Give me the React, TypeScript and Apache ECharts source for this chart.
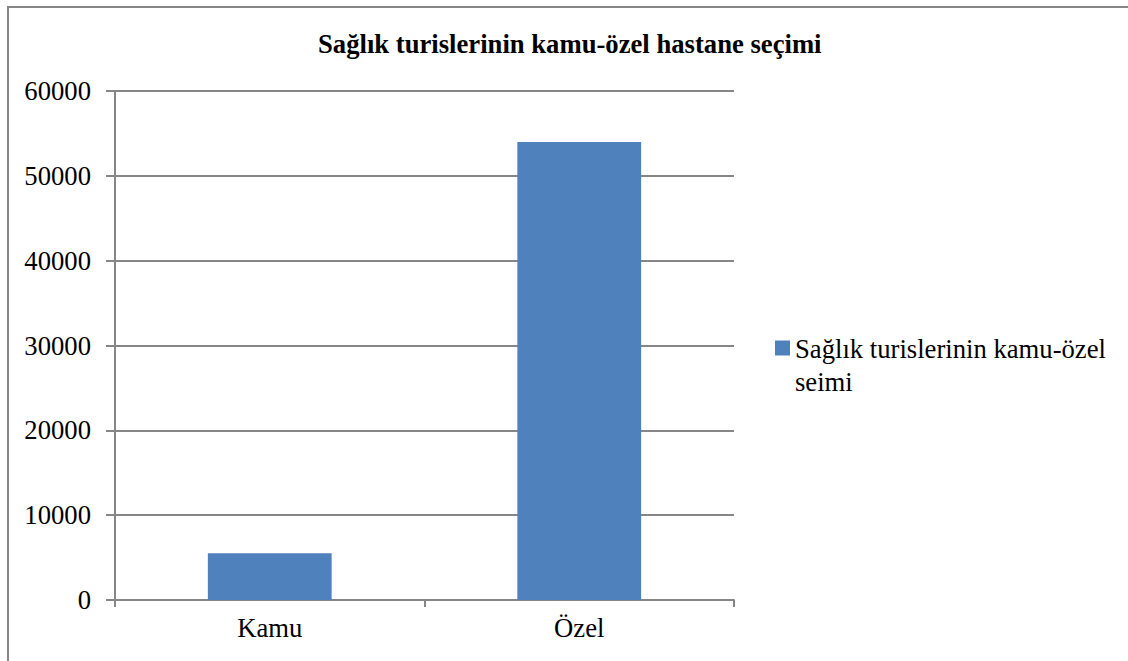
import React, { useEffect, useRef } from "react";
import * as echarts from "echarts";

const categories = ["Kamu", "Özel"];
const seriesName = "Sağlık turislerinin kamu-özel seimi";
const values = [5500, 54000];
const titleText = "Sağlık turislerinin kamu-özel hastane seçimi";
const yMin = 0;
const yMax = 60000;
const yInterval = 10000;

const FONT = "'Times New Roman', 'Liberation Serif', serif";
const FS = 26.67;
const GRAY = "#868686";
const BLUE = "#4F81BD";

export default function App() {
  const ref = useRef<HTMLDivElement>(null);
  useEffect(() => {
    if (!ref.current) return;
    const chart = echarts.init(ref.current, null, { renderer: "svg" });
    chart.setOption({
      animation: false,
      backgroundColor: "#ffffff",
      textStyle: { fontFamily: FONT },
      title: {
        text: titleText,
        left: 318,
        top: 30,
        padding: 0,
        textStyle: {
          fontFamily: FONT,
          fontSize: FS,
          fontWeight: "bold",
          color: "#000",
        },
      },
      legend: {
        left: 775,
        top: 332,
        padding: 0,
        orient: "vertical",
        itemWidth: 15,
        itemHeight: 49,
        icon: "path://M0,0L15,0L15,15L0,15Z M0,48.99L0.01,48.99L0.01,49L0,49Z",
        formatter: (name: string) => {
          const i = name.lastIndexOf(" ");
          return name.slice(0, i) + "\n" + name.slice(i + 1);
        },
        textStyle: {
          fontFamily: FONT,
          fontSize: FS,
          lineHeight: 33,
          color: "#000",
        },
        data: [seriesName],
      },
      grid: { left: 115, top: 91, right: 394, bottom: 61, containLabel: false },
      xAxis: {
        type: "category",
        data: categories,
        boundaryGap: true,
        axisLine: { show: true, lineStyle: { color: GRAY, width: 2 } },
        axisTick: { show: true, length: 7, alignWithLabel: false, lineStyle: { color: GRAY, width: 2 } },
        axisLabel: { fontFamily: FONT, fontSize: FS, color: "#000", margin: 14 },
        splitLine: { show: false },
      },
      yAxis: {
        type: "value",
        min: yMin,
        max: yMax,
        interval: yInterval,
        axisLine: { show: true, lineStyle: { color: GRAY, width: 2 } },
        axisTick: { show: true, length: 9, lineStyle: { color: GRAY, width: 2 } },
        axisLabel: {
          fontFamily: FONT,
          fontSize: FS,
          color: "#000",
          margin: 24,
          formatter: (v: number) => String(v),
        },
        splitLine: { show: true, lineStyle: { color: GRAY, width: 2 } },
      },
      series: [
        {
          name: seriesName,
          type: "bar",
          data: values,
          barWidth: "40%",
          itemStyle: { color: BLUE },
        },
      ],
      graphic: [
        {
          type: "rect",
          silent: true,
          shape: { x: 8, y: 7, width: 1300, height: 800 },
          style: { fill: "none", stroke: GRAY, lineWidth: 2 },
          z: 100,
        },
      ],
    });
    return () => chart.dispose();
  }, []);
  return (
    <div
      ref={ref}
      style={{ position: "fixed", left: 0, top: 0, width: 1128, height: 661 }}
    />
  );
}
